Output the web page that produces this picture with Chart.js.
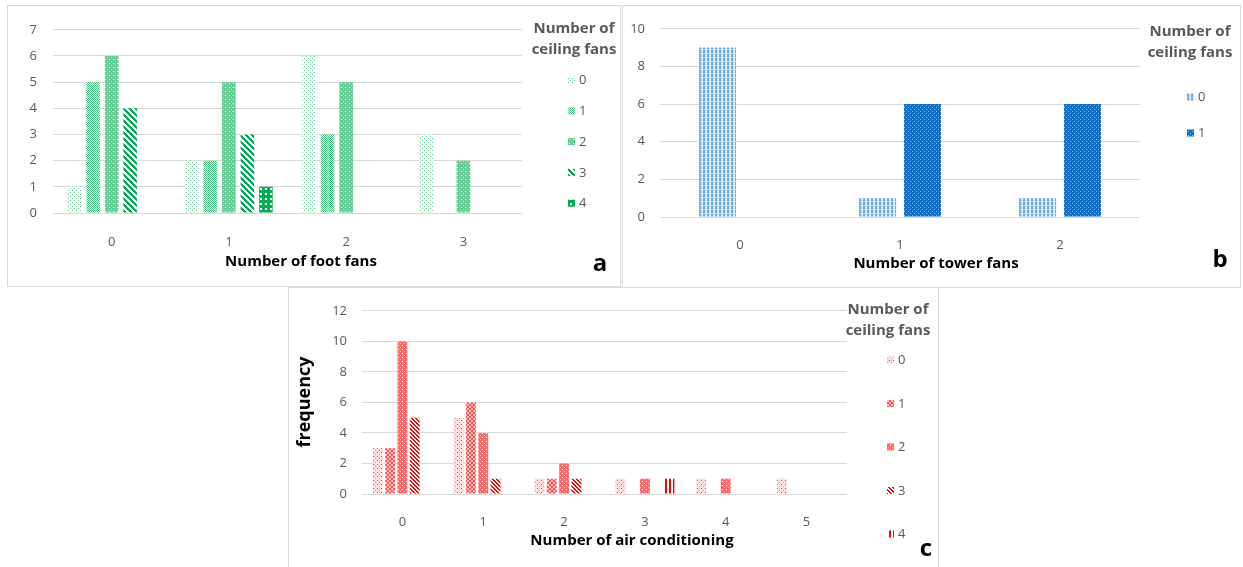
<!DOCTYPE html>
<html>
<head>
<meta charset="utf-8">
<script src="https://cdn.jsdelivr.net/npm/chart.js@4.4.1/dist/chart.umd.min.js"></script>
<style>
  html, body { margin: 0; padding: 0; background: #fff; overflow: hidden; }
  body { width: 1243px; height: 567px; position: relative; }
  .panel { position: absolute; border: 1px solid #d9d9d9; box-sizing: border-box; background: #fff; }
  .panel canvas { position: absolute; left: 0; top: 0; }
</style>
</head>
<body>
<div class="panel" style="left:7px;top:5px;width:614px;height:282px"><canvas id="chartA" width="612" height="280"></canvas></div>
<div class="panel" style="left:622px;top:5px;width:619px;height:283px"><canvas id="chartB" width="617" height="281"></canvas></div>
<div class="panel" style="left:288px;top:287px;width:651px;height:283px"><canvas id="chartC" width="649" height="281"></canvas></div>
<script>
// a: foot fans vs ceiling fans
const footFanCats = ['0', '1', '2', '3']
const footCeil0 = [1, 2, 6, 3]
const footCeil1 = [5, 2, 3, 0]
const footCeil2 = [6, 5, 5, 2]
const footCeil3 = [4, 3, 0, 0]
const footCeil4 = [0, 1, 0, 0]

// b: tower fans vs ceiling fans
const towerFanCats = ['0', '1', '2']
const towerCeil0 = [9, 1, 1]
const towerCeil1 = [0, 6, 6]

// c: air conditioning vs ceiling fans
const acCats = ['0', '1', '2', '3', '4', '5']
const acCeil0 = [3, 5, 1, 1, 1, 1]
const acCeil1 = [3, 6, 1, 0, 0, 0]
const acCeil2 = [10, 4, 2, 1, 1, 0]
const acCeil3 = [5, 1, 1, 0, 0, 0]
const acCeil4 = [0, 0, 0, 1, 0, 0]

const ceilingLabels = ['0', '1', '2', '3', '4']

const FONT = '"Open Sans", sans-serif'
const GRAY = '#595959'

// small pixel patterns, like Excel's pattern fills
function pattern(size, bg, fn) {
    const c = document.createElement('canvas')
    c.width = size; c.height = size
    const g = c.getContext('2d')
    g.fillStyle = bg
    g.fillRect(0, 0, size, size)
    for (let y = 0; y < size; y++) {
        for (let x = 0; x < size; x++) {
            const col = fn(x, y)
            if (col) { g.fillStyle = col; g.fillRect(x, y, 1, 1) }
        }
    }
    return g.createPattern(c, 'repeat')
}

const green = [
    pattern(4, '#ffffff', (x, y) => (x === 0 && y === 0) || (x === 2 && y === 2) ? 'rgba(0,176,80,0.6)' : null),
    pattern(4, '#ffffff', (x, y) => (x + y) % 2 === 0 ? 'rgba(0,176,80,0.75)' : (x === 1 && y === 0 ? 'rgba(0,176,80,0.3)' : null)),
    pattern(4, '#ffffff', (x, y) => (x === 1 && y === 1) ? null : (x === 3 && y === 3 ? 'rgba(0,176,80,0.3)' : 'rgba(0,176,80,0.62)')),
    pattern(6, '#ffffff', (x, y) => ((x - y) % 6 + 6) % 6 < 3 ? '#00a650' : null),
    pattern(5, '#ffffff', (x, y) => (x >= 2 && x <= 3 && y >= 2 && y <= 3) ? null : '#00b050')
]
const blue = [
    pattern(4, '#c9dff4', (x, y) => x < 2 ? (y === 3 ? '#b0cfee' : '#6fa8e0') : (x === 3 && y % 2 ? '#ffffff' : null)),
    pattern(4, '#0e6cc2', (x, y) => (x === 1 && y === 1) || (x === 3 && y === 3) ? '#a0c8f0' : null)
]
const red = [
    pattern(4, '#ffe0e0', (x, y) => (x === 0 && y === 0) ? '#ff3030' : (x === 2 && y === 2 ? '#ff8080' : null)),
    pattern(4, '#ffc0c0', (x, y) => ((x >> 1) + (y >> 1)) % 2 === 0 ? '#ff5050' : null),
    pattern(4, '#ff6a6a', (x, y) => (x === 1 && y === 1) ? '#ffffff' : (x === 3 && y === 3 ? '#ffb4b4' : null)),
    pattern(4, '#ffffff', (x, y) => ((x - y) % 4 + 4) % 4 < 2 ? '#ff0000' : null),
    pattern(4, '#ffffff', (x, y) => x < 2 ? '#ff0000' : null)
]

// legend, axis titles and panel letter, drawn on the canvas
const extras = {
    id: 'extras',
    afterDraw(chart) {
        const o = chart.options.plugins.extras
        const ctx = chart.ctx
        ctx.save()
        ctx.textBaseline = 'middle'
        // legend title
        ctx.fillStyle = GRAY
        ctx.font = 'bold 15px ' + FONT
        ctx.textAlign = 'center'
        ctx.fillText('Number of', o.legX, o.legY)
        ctx.fillText('ceiling fans', o.legX, o.legY + 21)
        // legend items
        ctx.font = '13px ' + FONT
        ctx.textAlign = 'left'
        chart.data.datasets.forEach((ds, i) => {
            const y = o.itemY + i * o.itemStep
            ctx.fillStyle = ds.backgroundColor
            ctx.fillRect(o.swX, y - 3.5, 7, 7)
            ctx.fillStyle = GRAY
            ctx.fillText(ds.label, o.swX + 11, y + 0.5)
        })
        // x title
        ctx.fillStyle = '#000'
        ctx.font = 'bold 15px ' + FONT
        ctx.textAlign = 'center'
        ctx.fillText(o.xTitle, o.xTitleX, o.xTitleY)
        if (o.yTitle) {
            ctx.save()
            ctx.translate(o.yTitleX, o.yTitleY)
            ctx.rotate(-Math.PI / 2)
            ctx.font = 'bold 18px ' + FONT
            ctx.fillText(o.yTitle, 0, 0)
            ctx.restore()
        }
        // panel letter
        ctx.font = 'bold 24px ' + FONT
        ctx.fillText(o.letter, o.letterX, o.letterY)
        ctx.restore()
    }
}

function makeChart(id, labels, series, colors, s) {
    const datasets = series.map((data, i) => ({
        label: ceilingLabels[i],
        data: data,
        backgroundColor: colors[i],
        borderWidth: 0,
        categoryPercentage: s.cat,
        barPercentage: s.bar
    }))
    return new Chart(document.getElementById(id), {
        type: 'bar',
        data: { labels: labels, datasets: datasets },
        plugins: [extras],
        options: {
            responsive: false,
            animation: false,
            layout: { padding: { top: s.top, right: s.right, left: 0, bottom: 0 } },
            plugins: { legend: { display: false }, tooltip: { enabled: false }, extras: s.extras },
            scales: {
                x: {
                    grid: { display: false },
                    border: { display: false },
                    ticks: { color: GRAY, font: { family: FONT, size: 13 }, padding: s.xPad },
                    afterFit: sc => { sc.height = s.xH }
                },
                y: {
                    min: 0, max: s.max,
                    ticks: { stepSize: s.step, color: GRAY, font: { family: FONT, size: 13 }, padding: s.yPad },
                    grid: { color: '#d9d9d9', lineWidth: 1, drawTicks: false },
                    border: { display: false },
                    afterFit: sc => { sc.width = s.yW }
                }
            }
        }
    })
}

makeChart('chartA', footFanCats, [footCeil0, footCeil1, footCeil2, footCeil3, footCeil4], green, {
    cat: 0.79, bar: 0.73, top: 15, right: 98, xH: 73, yW: 45, xPad: 13, yPad: 16, max: 7, step: 1,
    extras: { legX: 566, legY: 23, itemY: 74, itemStep: 30.8, swX: 560, xTitle: 'Number of foot fans', xTitleX: 293, xTitleY: 256, letter: 'a', letterX: 592, letterY: 258 }
})
makeChart('chartB', towerFanCats, [towerCeil0, towerCeil1], blue, {
    cat: 0.5625, bar: 0.82, top: 15, right: 100, xH: 70, yW: 37, xPad: 12, yPad: 15, max: 10, step: 2,
    extras: { legX: 567, legY: 26, itemY: 91, itemStep: 36, swX: 564, xTitle: 'Number of tower fans', xTitleX: 313, xTitleY: 258, letter: 'b', letterX: 597, letterY: 254 }
})
makeChart('chartC', acCats, [acCeil0, acCeil1, acCeil2, acCeil3, acCeil4], red, {
    cat: 0.76, bar: 0.8, top: 16, right: 91, xH: 75, yW: 73, xPad: 12, yPad: 15, max: 12, step: 2,
    extras: { legX: 599, legY: 22, itemY: 72, itemStep: 43.5, swX: 598, xTitle: 'Number of air conditioning', xTitleX: 343, xTitleY: 253, yTitle: 'frequency', yTitleX: 16, yTitleY: 114, letter: 'c', letterX: 637, letterY: 261 }
})
</script>
</body>
</html>
